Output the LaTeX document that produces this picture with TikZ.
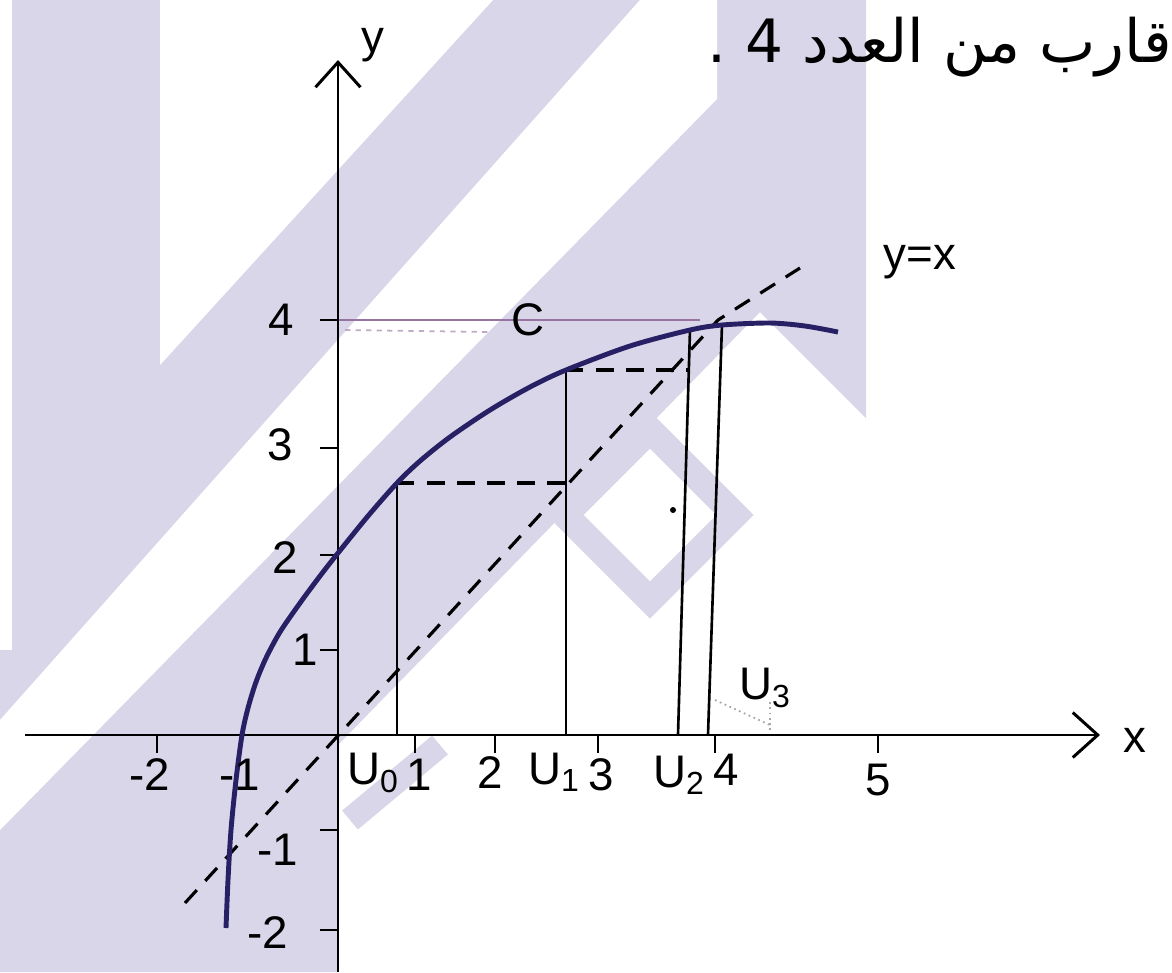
\documentclass[tikz,border=0pt]{standalone}
\usepackage{fontspec}
\setmainfont{Liberation Sans}
\newfontfamily\arabicfont[Script=Arabic]{DejaVu Sans}
\TeXXeTstate=1
\usetikzlibrary{arrows.meta}
\definecolor{wmark}{RGB}{218,214,233}
\definecolor{ink}{RGB}{40,32,100}
\definecolor{pinkink}{RGB}{150,115,160}
\begin{document}
\begin{tikzpicture}[scale=0.2, every node/.style={inner sep=0pt, font=\fontsize{26}{30}\selectfont}]
\tikzset{axis/.style={line width=1.7pt, -{Straight Barb[length=5mm,width=9mm,line width=1.7pt]}},
  tick/.style={line width=1.6pt}, vline/.style={line width=1.5pt},
  guide/.style={line width=1.8pt, dash pattern=on 3.5mm off 2.5mm},
  curve/.style={ink, line width=2.8pt}, faint/.style={black!35, line width=1pt, dotted}}
\useasboundingbox (0,0) rectangle (117.2,-97.2);
\fill [wmark] (1.2,0) -- (86.6,0) -- (86.6,-41.8) -- (76,-31.2) -- (33.8,-74.5) -- (33.8,-97.2) -- (0,-97.2) -- (0,-65) -- (1.2,-65) -- cycle;
\fill [white] (16,0) -- (49.3,0) -- (16,-36.5) -- cycle;
\fill [white] (64,0) -- (71.7,0) -- (71.7,-9.9) -- (0,-83) -- (0,-72) -- cycle;
\draw [wmark, line width=15pt] (65,-43) -- (73.5,-51.5) -- (65,-60) -- (56.5,-51.5) -- cycle;
\draw [wmark, line width=14pt] (35,-82) -- (44,-74.5);
\coordinate (O) at (33.8,-73.5);
\coordinate (xl) at (2.5,-73.5);
\coordinate (xr) at (110,-73.5);
\coordinate (yb) at (33.8,-97.2);
\coordinate (yt) at (33.8,-6.0);
\coordinate (u0a) at (39.7,-73.5);
\coordinate (u0c) at (39.7,-48.3);
\coordinate (u1a) at (56.6,-73.5);
\coordinate (u1c) at (56.6,-37.0);
\coordinate (u1m) at (56.6,-48.3);
\coordinate (u2a) at (67.8,-73.5);
\coordinate (u2c) at (69.0,-33.0);
\coordinate (u2m) at (68.9,-37.0);
\coordinate (u3a) at (70.8,-73.5);
\coordinate (u3c) at (72.2,-32.5);
\coordinate (dl) at (18.5,-90.3);
\coordinate (dm) at (71.8,-32.0);
\coordinate (dr) at (80,-26.8);
\coordinate (fourl) at (33.8,-32);
\coordinate (fourr) at (70,-32);
\draw [pinkink, line width=1.2pt] (fourl) -- (fourr);
\draw [pinkink!60, line width=1pt, dashed] (34.5,-33) -- (49,-33.2);
\draw [axis] (xl) -- (xr);
\draw [axis] (yb) -- (yt);
\foreach \t in {32,44.8,55.5,65,83,93}
  \draw [tick] (32.0,-\t) -- (33.8,-\t);
\foreach \t in {15.7,41.5,49.5,59.8,71.5,87.8}
  \draw [tick] (\t,-73.5) -- (\t,-75.3);
\draw [guide] (dl) -- (dm) -- (dr);
\draw [vline] (u0a) -- (u0c);
\draw [vline] (u1a) -- (u1c);
\draw [vline] (u2a) -- (u2c);
\draw [vline] (u3a) -- (u3c);
\draw [guide] (u0c) -- (u1m);
\draw [guide] (u1c) -- (u2m);
\draw [curve] plot [smooth, tension=0.5] coordinates {(22.6,-92.8) (22.8,-88) (23.1,-83) (23.6,-78) (24.2,-73.5) (24.8,-70.8) (25.6,-68.2) (26.6,-65.8) (28,-63.2) (30,-60.3) (32,-57.6) (33.8,-55.3) (36.8,-51.6) (39.7,-48.3) (42,-46.1) (45,-43.7) (49,-41) (53,-38.7) (56.6,-37.0) (63,-34.6) (69,-33.0) (72.2,-32.5) (77,-32.3) (80.5,-32.6) (83.8,-33.2)};
\draw [faint] (71.5,-70) -- (77,-72.5);
\draw [faint] (77,-70.2) -- (77,-73);
\fill (67.3,-51) circle (0.3);
\node (ylab) at (37.3,-4.5) {y};
\node (xlab) at (113.5,-74) {x};
\node (yfour) at (28.1,-32) {4};
\node (ythree) at (28,-44.5) {3};
\node (ytwo) at (28.5,-55.8) {2};
\node (yone) at (30.5,-65) {1};
\node (ymone) at (27.8,-85) {-1};
\node (ymtwo) at (26.8,-93.3) {-2};
\node (xmtwo) at (15,-77.5) {-2};
\node (xmone) at (24,-77.5) {-1};
\node (lu0) at (37.3,-77.3) {U\textsubscript{0}};
\node (xone) at (41.9,-77.5) {1};
\node (xtwo) at (49,-77.3) {2};
\node (lu1) at (55.4,-77.2) {U\textsubscript{1}};
\node (xthree) at (60.1,-77.5) {3};
\node (lu2) at (67.9,-77.5) {U\textsubscript{2}};
\node (xfour) at (72.6,-77) {4};
\node (xfive) at (87.8,-78) {5};
\node (lu3) at (76.5,-68.8) {U\textsubscript{3}};
\node (cpt) at (52.8,-32) {C};
\node (diag) at (92,-26.2) {y=x};
\node (note) [anchor=east, font=\fontsize{34}{38}\selectfont] at (117.2,-4.7) {\arabicfont\beginR قارب من العدد 4 .\endR};
\end{tikzpicture}
\end{document}
